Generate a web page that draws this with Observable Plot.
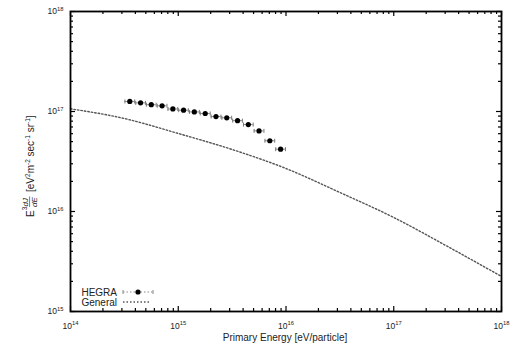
<!DOCTYPE html>
<html>
<head>
<meta charset="utf-8">
<script src="https://cdn.jsdelivr.net/npm/d3@7"></script>
<script src="https://cdn.jsdelivr.net/npm/@observablehq/plot@0.6"></script>
<style>
  html, body { margin: 0; padding: 0; background: #fff; }
  #chart svg { display: block; font-family: "Liberation Sans", Arial, sans-serif; }
</style>
</head>
<body>
<div id="chart"></div>
<script>
// HEGRA measurements
const hegraEnergy = [3.55e14, 4.47e14, 5.62e14, 7.08e14, 8.91e14, 1.12e15, 1.41e15, 1.78e15, 2.24e15, 2.82e15, 3.55e15, 4.47e15, 5.62e15, 7.08e15, 8.91e15];
const hegraLow    = [3.20e14, 4.03e14, 5.06e14, 6.38e14, 8.03e14, 1.01e15, 1.27e15, 1.60e15, 2.02e15, 2.54e15, 3.20e15, 4.03e15, 5.06e15, 6.38e15, 8.03e15];
const hegraHigh   = [3.94e14, 4.96e14, 6.24e14, 7.86e14, 9.89e14, 1.24e15, 1.57e15, 1.98e15, 2.49e15, 3.13e15, 3.94e15, 4.96e15, 6.24e15, 7.86e15, 9.89e15];
const hegraFlux   = [1.26e17, 1.22e17, 1.17e17, 1.14e17, 1.06e17, 1.03e17, 9.9e16, 9.55e16, 8.9e16, 8.65e16, 8.1e16, 7.4e16, 6.4e16, 5.1e16, 4.2e16];

// "General" curve
const generalEnergy = [1e14, 3.16e14, 1e15, 3.16e15, 1e16, 3.16e16, 1e17, 3.16e17, 1e18];
const generalFlux   = [1.064e17, 8.51e16, 6.03e16, 4.17e16, 2.69e16, 1.55e16, 8.71e15, 4.47e15, 2.24e15];

// Axis ticks
const xMajor = [1e14, 1e15, 1e16, 1e17, 1e18];
const yMajor = [1e15, 1e16, 1e17, 1e18];
const minorMult = [2, 3, 4, 5, 6, 7, 8, 9];
const xMinor = xMajor.slice(0, -1).flatMap(d => minorMult.map(m => d * m));
const yMinor = yMajor.slice(0, -1).flatMap(d => minorMult.map(m => d * m));

const hegra = hegraEnergy.map((e, i) => ({e, lo: hegraLow[i], hi: hegraHigh[i], f: hegraFlux[i]}));
const general = generalEnergy.map((e, i) => ({e, f: generalFlux[i]}));

const W = 518, H = 349, mL = 70, mR = 17, mT = 11, mB = 38;
const ph = H - mT - mB, pw = W - mL - mR;
const majorLen = 5, minorLen = 3;

const capSymbol = {
  draw(ctx, size) {
    const h = Math.sqrt(size / Math.PI);
    ctx.moveTo(0, -h); ctx.lineTo(0, h);
  }
};

const fmt = d => "10^" + Math.round(Math.log10(d));

const chart = Plot.plot({
  width: W, height: H,
  marginLeft: mL, marginRight: mR, marginTop: mT, marginBottom: mB,
  style: {fontFamily: '"Liberation Sans", Arial, sans-serif', background: "white"},
  x: {type: "log", domain: [1e14, 1e18]},
  y: {type: "log", domain: [1e15, 1e18]},
  marks: [
    // inward ticks, all four sides
    Plot.tickX(xMinor, {x: d => d, insetTop: ph - minorLen, stroke: "black", strokeWidth: 1.2}),
    Plot.tickX(xMinor, {x: d => d, insetBottom: ph - minorLen, stroke: "black", strokeWidth: 1.2}),
    Plot.tickX(xMajor, {x: d => d, insetTop: ph - majorLen, stroke: "black", strokeWidth: 1.2}),
    Plot.tickX(xMajor, {x: d => d, insetBottom: ph - majorLen, stroke: "black", strokeWidth: 1.2}),
    Plot.tickY(yMinor, {y: d => d, insetRight: pw - minorLen, stroke: "black", strokeWidth: 1.2}),
    Plot.tickY(yMinor, {y: d => d, insetLeft: pw - minorLen, stroke: "black", strokeWidth: 1.2}),
    Plot.tickY(yMajor, {y: d => d, insetRight: pw - majorLen, stroke: "black", strokeWidth: 1.2}),
    Plot.tickY(yMajor, {y: d => d, insetLeft: pw - majorLen, stroke: "black", strokeWidth: 1.2}),
    Plot.axisX(xMajor, {tickSize: 0, tickPadding: 11, tickFormat: fmt, label: null, fontSize: 8.5, fill: "#222"}),
    Plot.axisY(yMajor, {tickSize: 0, tickPadding: 7, tickFormat: fmt, label: null, fontSize: 8.5, fill: "#222"}),
    // General curve
    Plot.line(general, {x: "e", y: "f", curve: "monotone-x", stroke: "#555", strokeWidth: 1.4, strokeDasharray: "1.5,2"}),
    // HEGRA error bars
    Plot.ruleY(hegra, {y: "f", x1: "lo", x2: "hi", stroke: "#888", strokeWidth: 1}),
    Plot.dot(hegra, {x: "lo", y: "f", symbol: capSymbol, r: 2, stroke: "#777", fill: "none", strokeWidth: 1}),
    Plot.dot(hegra, {x: "hi", y: "f", symbol: capSymbol, r: 2, stroke: "#777", fill: "none", strokeWidth: 1}),
    Plot.dot(hegra, {x: "e", y: "f", r: 2.6, fill: "black", stroke: "none"}),
    Plot.frame({stroke: "black", strokeWidth: 1.8})
  ]
});

document.getElementById("chart").append(chart);

// superscript exponents in tick labels
const svg = d3.select(chart);
svg.selectAll('g[aria-label="x-axis tick label"] text, g[aria-label="y-axis tick label"] text').each(function () {
  const t = d3.select(this);
  const s = t.text();
  if (!s.startsWith("10^")) return;
  const exp = s.slice(3);
  t.text("");
  t.append("tspan").text("10");
  t.append("tspan").attr("dy", "-0.55em").attr("font-size", 5.8).text(exp);
});

// axis titles
svg.append("text")
  .attr("x", 285).attr("y", 341)
  .attr("text-anchor", "middle")
  .attr("font-size", 10).attr("fill", "#222")
  .text("Primary Energy [eV/particle]");

const yl = svg.append("g").attr("transform", "translate(29,162) rotate(-90)")
  .attr("fill", "#222").attr("text-anchor", "start");
yl.append("text").attr("x", -55).attr("y", 5).attr("font-size", 10).text("E");
yl.append("text").attr("x", -48.3).attr("y", -2).attr("font-size", 6.5).text("3");
yl.append("text").attr("x", -44.5).attr("y", -1.4).attr("font-size", 8).attr("font-style", "italic").text("dJ");
yl.append("line").attr("x1", -45).attr("x2", -34.5).attr("y1", 0.6).attr("y2", 0.6).attr("stroke", "#222").attr("stroke-width", 0.6);
yl.append("text").attr("x", -45).attr("y", 8.2).attr("font-size", 8).attr("font-style", "italic").text("dE");
const yt = yl.append("text").attr("x", -30).attr("y", 4.5).attr("font-size", 10);
yt.append("tspan").text("[eV");
yt.append("tspan").attr("dy", -4).attr("font-size", 6.5).text("2");
yt.append("tspan").attr("dy", 4).text("m");
yt.append("tspan").attr("dy", -4).attr("font-size", 6.5).text("-2");
yt.append("tspan").attr("dy", 4).text(" sec");
yt.append("tspan").attr("dy", -4).attr("font-size", 6.5).text("-1");
yt.append("tspan").attr("dy", 4).text(" sr");
yt.append("tspan").attr("dy", -4).attr("font-size", 6.5).text("-1");
yt.append("tspan").attr("dy", 4).text("]");

// legend
const lg = svg.append("g").attr("font-size", 10).attr("fill", "#222");
lg.append("text").attr("x", 117).attr("y", 295.5).attr("text-anchor", "end").text("HEGRA");
lg.append("text").attr("x", 117).attr("y", 305.5).attr("text-anchor", "end").text("General");
lg.append("line").attr("x1", 123).attr("x2", 153).attr("y1", 292).attr("y2", 292).attr("stroke", "#888").attr("stroke-dasharray", "1.5,2");
lg.append("line").attr("x1", 123).attr("x2", 123).attr("y1", 290).attr("y2", 294).attr("stroke", "#888");
lg.append("line").attr("x1", 153).attr("x2", 153).attr("y1", 290).attr("y2", 294).attr("stroke", "#888");
lg.append("circle").attr("cx", 138).attr("cy", 292).attr("r", 2.6).attr("fill", "black");
lg.append("line").attr("x1", 123).attr("x2", 151).attr("y1", 302).attr("y2", 302).attr("stroke", "#555").attr("stroke-width", 1.4).attr("stroke-dasharray", "1.5,2");
</script>
</body>
</html>
